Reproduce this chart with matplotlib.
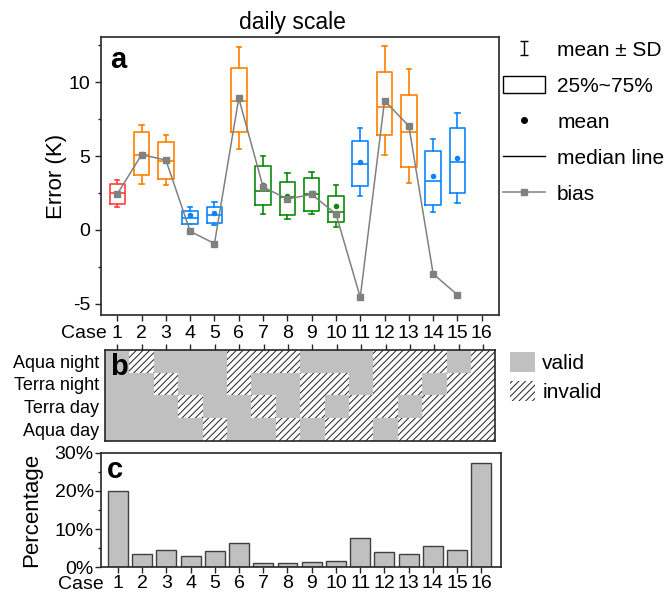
import numpy as np
import matplotlib
matplotlib.use("Agg")
import matplotlib.pyplot as plt
from matplotlib.lines import Line2D
from matplotlib.patches import Patch
from matplotlib.ticker import MultipleLocator, PercentFormatter
from matplotlib.legend_handler import HandlerErrorbar

plt.rcParams['font.family'] = ['Liberation Sans', 'DejaVu Sans']
plt.rcParams['hatch.linewidth'] = 0.75
plt.rcParams['axes.unicode_minus'] = False

cases = np.arange(1, 17)
case_labels = [str(c) for c in cases]

# (a) daily-scale error statistics, cases 1-15 (case 16 has no retrieval)
q1 = [1.76, 3.72, 3.42, 0.41, 0.50, 6.64, 1.69, 1.03, 1.28, 0.52, 3.00, 6.42, 4.28, 1.69, 2.48]
median = [2.52, 5.07, 4.66, 0.83, 1.01, 8.74, 2.61, 2.25, 2.45, 1.19, 4.48, 8.29, 6.62, 3.33, 4.62]
q3 = [3.11, 6.64, 5.92, 1.26, 1.55, 10.97, 4.32, 3.22, 3.49, 2.32, 6.01, 10.65, 9.10, 5.34, 6.87]
mean = [2.46, 5.13, 4.70, 0.98, 1.13, 8.95, 3.04, 2.28, 2.52, 1.62, 4.60, 8.75, 7.04, 3.68, 4.87]
sd = [0.93, 2.00, 1.69, 0.58, 0.77, 3.45, 1.98, 1.55, 1.42, 1.42, 2.27, 3.66, 3.86, 2.49, 3.02]
bias = [2.43, 5.09, 4.73, -0.09, -0.92, 8.92, 2.91, 2.09, 2.41, 1.08, -4.55, 8.74, 7.03, -2.97, -4.39]
box_colors = ['#ff4040', '#ff8000', '#ff8000', '#0a84ff', '#0a84ff', '#ff8000',
              '#0b8a0b', '#0b8a0b', '#0b8a0b', '#0b8a0b', '#0a84ff', '#ff8000',
              '#ff8000', '#0a84ff', '#0a84ff']

# (b) which overpasses are valid for each case (1 = valid)
pass_names = ['Aqua night', 'Terra night', 'Terra day', 'Aqua day']
aqua_night = [1, 0, 1, 1, 1, 0, 0, 0, 1, 1, 1, 0, 0, 0, 1, 0]
terra_night = [1, 1, 0, 1, 1, 0, 1, 1, 0, 0, 1, 0, 0, 1, 0, 0]
terra_day = [1, 1, 1, 0, 1, 1, 0, 1, 0, 1, 0, 0, 1, 0, 0, 0]
aqua_day = [1, 1, 1, 1, 0, 1, 1, 0, 1, 0, 0, 1, 0, 0, 0, 0]

# (c) share of samples in each case (%)
percentage = [20.0, 3.57, 4.6, 2.88, 4.35, 6.45, 1.2, 1.04, 1.39, 1.57, 7.75, 4.1, 3.4, 5.5, 4.45, 27.4]

W, H = 666, 594
fig = plt.figure(figsize=(W / 100, H / 100), dpi=100)


def frame(x0, y0, x1, y1):
    return [x0 / W, 1 - y1 / H, (x1 - x0) / W, (y1 - y0) / H]


spine_c = '#262626'
gray = '#c0c0c0'
hatch_c = '#2b2b2b'

# ---------------- panel a ----------------
ax = fig.add_axes(frame(101, 37, 499, 315))
stats = [dict(q1=a, med=m, q3=b, mean=mu, whislo=mu - s, whishi=mu + s, fliers=[])
         for a, m, b, mu, s in zip(q1, median, q3, mean, sd)]
bp = ax.bxp(stats, positions=cases[:15], widths=0.64, capwidths=0.18,
            showmeans=True, showfliers=False, manage_ticks=False,
            boxprops=dict(lw=1.2), medianprops=dict(lw=1.2),
            whiskerprops=dict(lw=1.2), capprops=dict(lw=1.2),
            meanprops=dict(marker='o', markersize=4, markeredgewidth=0))
for i, c in enumerate(box_colors):
    bp['boxes'][i].set_color(c)
    bp['medians'][i].set_color(c)
    bp['means'][i].set_markerfacecolor(c)
    for k in (2 * i, 2 * i + 1):
        bp['whiskers'][k].set_color(c)
        bp['caps'][k].set_color(c)

ax.plot(cases[:15], bias, color='#808080', lw=1.1, marker='s', ms=4.5, zorder=5)

ax.set_xlim(0.33, 16.71)
ax.set_ylim(-5.75, 13.05)
ax.set_xticks(cases)
ax.set_xticklabels(case_labels)
ax.yaxis.set_major_locator(MultipleLocator(5))
ax.yaxis.set_minor_locator(MultipleLocator(2.5))
ax.tick_params(axis='both', which='major', labelsize=14, length=4, width=1, color=spine_c)
ax.tick_params(axis='y', which='major', pad=3.5)
ax.tick_params(axis='x', which='major', pad=3)
ax.tick_params(axis='y', which='minor', length=2.5, width=1, color=spine_c)
ax.set_ylabel('Error (K)', fontsize=16)
ax.yaxis.set_label_coords(-0.085, 0.5)
ax.annotate('Case', xy=(0.015, 0), xycoords='axes fraction', xytext=(0, -7),
            textcoords='offset points', ha='right', va='top', fontsize=14)
ax.text(0.023, 0.887, 'a', transform=ax.transAxes, fontsize=21, fontweight='bold', va='baseline')
fig.text(292 / W, 1 - 29 / H, 'daily scale', fontsize=16.5, ha='center', va='baseline')

eb = ax.errorbar([np.nan], [np.nan], yerr=[1], fmt='none', ecolor='black', elinewidth=1, capsize=3,
                 capthick=1)
handles_a = [eb,
             Patch(facecolor='white', edgecolor='black', lw=1),
             Line2D([], [], ls='none', marker='o', color='black', ms=4),
             Line2D([], [], color='black', lw=1),
             Line2D([], [], color='#808080', lw=1.1, marker='s', ms=4.5)]
labels_a = ['mean \u00b1 SD', '25%~75%', 'mean', 'median line', 'bias']
ax.legend(handles_a, labels_a, loc='upper left', bbox_to_anchor=(503 / W, 1 - 40 / H),
          bbox_transform=fig.transFigure, frameon=False, fontsize=15, borderpad=0,
          borderaxespad=0, handlelength=2.0, handleheight=0.9, handletextpad=0.6,
          labelspacing=0.78, numpoints=1, handler_map={eb: HandlerErrorbar(yerr_size=0.32)})

# ---------------- panel b ----------------
axb = fig.add_axes(frame(105, 350, 495.5, 440.5))
for r, flags in enumerate([aqua_night, terra_night, terra_day, aqua_day]):
    row = 3 - r
    cells = axb.bar(cases, 1, bottom=row - 0.5, width=1, linewidth=0)
    for patch, ok in zip(cells, flags):
        if ok:
            patch.set_facecolor(gray)
        else:
            patch.set_facecolor('white')
            patch.set_edgecolor(hatch_c)
            patch.set_hatch('/////')
axb.set_xlim(0.5, 16.5)
axb.set_ylim(-0.5, 3.5)
axb.set_yticks([3, 2, 1, 0])
axb.set_yticklabels(pass_names)
axb.xaxis.tick_top()
axb.set_xticks(cases)
axb.tick_params(axis='x', labeltop=False, length=4, width=1, color=spine_c)
axb.tick_params(axis='y', length=0, labelsize=13, pad=4)
axb.text(0.013, 0.724, 'b', transform=axb.transAxes, fontsize=21, fontweight='bold', va='baseline')
handles_b = [Patch(facecolor=gray, edgecolor='none'),
             Patch(facecolor='white', edgecolor=hatch_c, hatch='/////', lw=0)]
axb.legend(handles_b, ['valid', 'invalid'], loc='upper left', bbox_to_anchor=(510 / W, 1 - 352 / H),
           bbox_transform=fig.transFigure, frameon=False, fontsize=15, borderpad=0,
           borderaxespad=0, handlelength=1.2, handleheight=1.1, handletextpad=0.35,
           labelspacing=0.4)

# ---------------- panel c ----------------
axc = fig.add_axes(frame(100.7, 452.7, 500.7, 567.3))
axc.bar(cases, percentage, width=0.82, color=gray, edgecolor='#404040', lw=1)
axc.set_xlim(0.29, 16.8)
axc.set_ylim(0, 30)
axc.set_xticks(cases)
axc.set_xticklabels(case_labels)
axc.yaxis.set_major_locator(MultipleLocator(10))
axc.yaxis.set_minor_locator(MultipleLocator(5))
axc.yaxis.set_major_formatter(PercentFormatter(decimals=0))
axc.tick_params(axis='both', which='major', labelsize=14, length=4, width=1, color=spine_c)
axc.tick_params(axis='y', which='major', pad=1)
axc.tick_params(axis='x', which='major', pad=1.5)
axc.tick_params(axis='y', which='minor', length=2.5, width=1, color=spine_c)
axc.set_ylabel('Percentage', fontsize=16)
axc.yaxis.set_label_coords(-0.147, 0.5)
axc.annotate('Case', xy=(0.008, 0), xycoords='axes fraction', xytext=(0, -6),
             textcoords='offset points', ha='right', va='top', fontsize=14)
axc.text(0.016, 0.779, 'c', transform=axc.transAxes, fontsize=21, fontweight='bold', va='baseline')

for a in (ax, axb, axc):
    for s in a.spines.values():
        s.set_linewidth(1.2)
        s.set_color(spine_c)

fig.savefig('out.png', dpi=100)
